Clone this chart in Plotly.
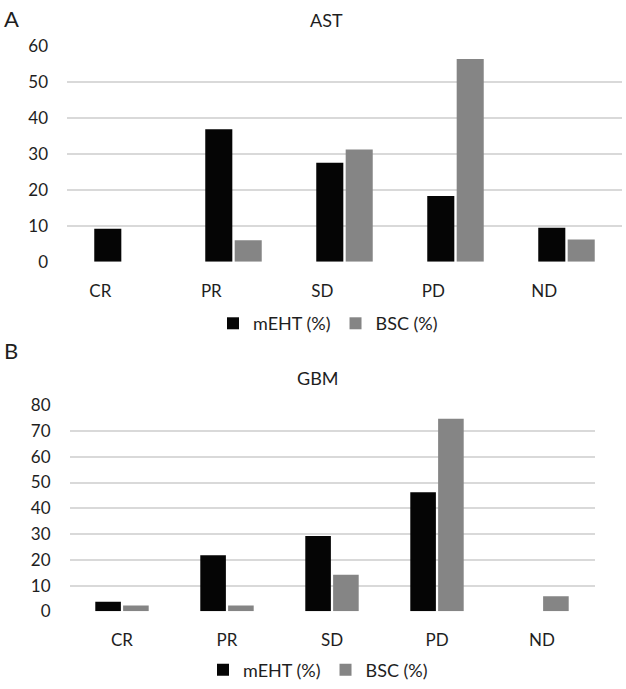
"""Tumour response by arm (mEHT vs BSC) for AST and GBM patients."""

import plotly.graph_objects as go

W, H = 626, 689

categories = ["CR", "PR", "SD", "PD", "ND"]

ast_meht = [9.2, 36.8, 27.5, 18.3, 9.5]
ast_bsc = [0, 6.0, 31.2, 56.3, 6.2]

gbm_meht = [3.7, 21.8, 29.2, 46.2, 0]
gbm_bsc = [2.3, 2.3, 14.2, 74.8, 5.9]

ast_yticks = [0, 10, 20, 30, 40, 50, 60]
gbm_yticks = [0, 10, 20, 30, 40, 50, 60, 70, 80]

BLACK = "#050505"
GREY = "#858585"
GRID = "#d9d9d9"
TEXT = "#1e1e1e"
FONT = "Lato, 'Open Sans', sans-serif"


def px_x(x):
    return x / W


def px_y(y):
    return 1 - y / H


pos = list(range(len(categories)))

fig = go.Figure()

# panel A
fig.add_trace(go.Bar(x=pos, y=ast_meht, name="mEHT (%)", marker=dict(color=BLACK, line_width=0),
                     xaxis="x", yaxis="y", legend="legend"))
fig.add_trace(go.Bar(x=pos, y=ast_bsc, name="BSC (%)", marker=dict(color=GREY, line_width=0),
                     xaxis="x", yaxis="y", legend="legend"))
# panel B
fig.add_trace(go.Bar(x=pos, y=gbm_meht, name="mEHT (%)", marker=dict(color=BLACK, line_width=0),
                     xaxis="x2", yaxis="y2", legend="legend2"))
fig.add_trace(go.Bar(x=pos, y=gbm_bsc, name="BSC (%)", marker=dict(color=GREY, line_width=0),
                     xaxis="x2", yaxis="y2", legend="legend2"))

xcommon = dict(range=[-0.5, len(categories) - 0.5], showgrid=False, zeroline=False, showline=False,
               ticks="", tickfont=dict(size=17, color=TEXT), ticklabelstandoff=17, automargin=False)
ycommon = dict(showgrid=True, gridcolor=GRID, gridwidth=2, zeroline=False, showline=False, ticks="",
               tickfont=dict(size=17, color=TEXT), ticklabelstandoff=18, automargin=False)

legend_common = dict(orientation="h", xanchor="center", yanchor="middle", font=dict(size=18, color=TEXT),
                     bgcolor="rgba(0,0,0,0)", itemwidth=30, traceorder="normal")

label = dict(xref="paper", yref="paper", showarrow=False, yanchor="middle")

fig.update_layout(
    width=W,
    height=H,
    margin=dict(l=0, r=0, t=0, b=0),
    paper_bgcolor="white",
    plot_bgcolor="white",
    font=dict(family=FONT, color=TEXT),
    barmode="group",
    bargap=0.47,
    bargroupgap=0.08,
    xaxis=dict(xcommon, domain=[px_x(67), px_x(622)], anchor="y",
               tickvals=[p - 0.2 for p in pos], ticktext=categories),
    yaxis=dict(ycommon, domain=[px_y(263), px_y(46)], anchor="x", range=[0, 60], tickvals=ast_yticks),
    xaxis2=dict(xcommon, domain=[px_x(69.5), px_x(594.5)], anchor="y2",
                tickvals=pos, ticktext=categories),
    yaxis2=dict(ycommon, domain=[px_y(614), px_y(407)], anchor="x2", range=[0, 80], tickvals=gbm_yticks),
    legend=dict(legend_common, x=px_x(328), y=px_y(325)),
    legend2=dict(legend_common, x=px_x(318), y=px_y(673)),
    annotations=[
        dict(label, text="AST", x=px_x(326), y=px_y(20), font=dict(size=18, color=TEXT)),
        dict(label, text="GBM", x=px_x(318), y=px_y(380), font=dict(size=18, color=TEXT)),
        dict(label, text="A", x=px_x(2), y=px_y(19), xanchor="left", font=dict(size=22, color=TEXT)),
        dict(label, text="B", x=px_x(2), y=px_y(352), xanchor="left", font=dict(size=22, color=TEXT)),
    ],
)

# the page body has a default 8px margin; drop it so the figure sits at the window origin
fig.write_html("out.html", config={"displayModeBar": False},
               post_script="document.body.style.margin = '0';")
